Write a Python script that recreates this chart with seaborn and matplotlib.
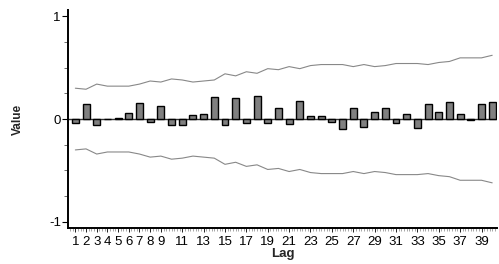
import numpy as np
import pandas as pd
import matplotlib.pyplot as plt
import seaborn as sns
from matplotlib.ticker import MultipleLocator, FixedLocator

plt.switch_backend('Agg')

lags = list(range(1, 41))
acf_values = [-0.04, 0.15, -0.06, 0.00, 0.01, 0.06, 0.16, -0.03, 0.13, -0.06,
              -0.06, 0.04, 0.05, 0.21, -0.06, 0.20, -0.04, 0.22, -0.04, 0.11,
              -0.05, 0.18, 0.03, 0.03, -0.03, -0.10, 0.11, -0.08, 0.07, 0.11,
              -0.04, 0.05, -0.09, 0.15, 0.07, 0.17, 0.05, -0.01, 0.15, 0.17]
upper_limit = [0.30, 0.29, 0.34, 0.32, 0.32, 0.32, 0.34, 0.37, 0.36, 0.39,
               0.38, 0.36, 0.37, 0.38, 0.44, 0.42, 0.46, 0.445, 0.49, 0.48,
               0.51, 0.49, 0.52, 0.53, 0.53, 0.53, 0.51, 0.53, 0.51, 0.52,
               0.54, 0.54, 0.54, 0.53, 0.55, 0.56, 0.595, 0.595, 0.595, 0.62]
lower_limit = [-0.30, -0.29, -0.34, -0.32, -0.32, -0.32, -0.34, -0.37, -0.36, -0.39,
               -0.38, -0.36, -0.37, -0.38, -0.44, -0.42, -0.46, -0.445, -0.49, -0.48,
               -0.51, -0.49, -0.52, -0.53, -0.53, -0.53, -0.51, -0.53, -0.51, -0.52,
               -0.54, -0.54, -0.54, -0.53, -0.55, -0.56, -0.595, -0.595, -0.595, -0.62]
x_tick_labels = [1, 2, 3, 4, 5, 6, 7, 8, 9, 11, 13, 15, 17, 19, 21, 23, 25,
                 27, 29, 31, 33, 35, 37, 39]

df = pd.DataFrame({'Lag': lags, 'Value': acf_values,
                   'Upper': upper_limit, 'Lower': lower_limit})

sns.set_theme(style="ticks")
plt.rcParams['font.family'] = ['Liberation Sans', 'DejaVu Sans']

fig = plt.figure(figsize=(4.99, 2.64), dpi=100)
ax = fig.add_axes([0.136, 0.136, 0.86, 0.826])

ax.axhline(0, color='#333333', linewidth=1.0, zorder=1)
sns.barplot(data=df, x='Lag', y='Value', native_scale=True, width=0.65,
            color='#808080', saturation=1, edgecolor='black', linewidth=1.0,
            ax=ax, zorder=2)
sns.lineplot(data=df, x='Lag', y='Upper', color='#888888', linewidth=0.8, ax=ax)
sns.lineplot(data=df, x='Lag', y='Lower', color='#888888', linewidth=0.8, ax=ax)

ax.set_xlim(0.3, 40.45)
ax.set_ylim(-1.06, 1.06)

ax.xaxis.set_major_locator(FixedLocator(x_tick_labels))
ax.set_xticklabels([str(v) for v in x_tick_labels], fontsize=9.5)
ax.xaxis.set_minor_locator(MultipleLocator(0.25))
ax.set_yticks([-1, 0, 1])
ax.set_yticklabels(['-1', '0', '1'], fontsize=9.5)
ax.yaxis.set_minor_locator(MultipleLocator(0.25))

ax.tick_params(axis='x', which='major', length=3, width=0.6, pad=2.5, colors='black')
ax.tick_params(axis='x', which='minor', length=2, width=0.4, color='#666666')
ax.tick_params(axis='y', which='major', length=4, width=0.8, pad=1, colors='black')
ax.tick_params(axis='y', which='minor', length=3, width=0.6, color='#555555')

for side in ['top', 'right']:
    ax.spines[side].set_visible(False)
for side in ['left', 'bottom']:
    ax.spines[side].set_linewidth(1.4)
    ax.spines[side].set_color('black')

ax.set_xlabel('Lag', fontsize=9.5, fontweight='bold', labelpad=0)
ax.set_ylabel('Value', fontsize=8.5, fontweight='bold', labelpad=18)

fig.savefig('out.png', dpi=100)
plt.close('all')
